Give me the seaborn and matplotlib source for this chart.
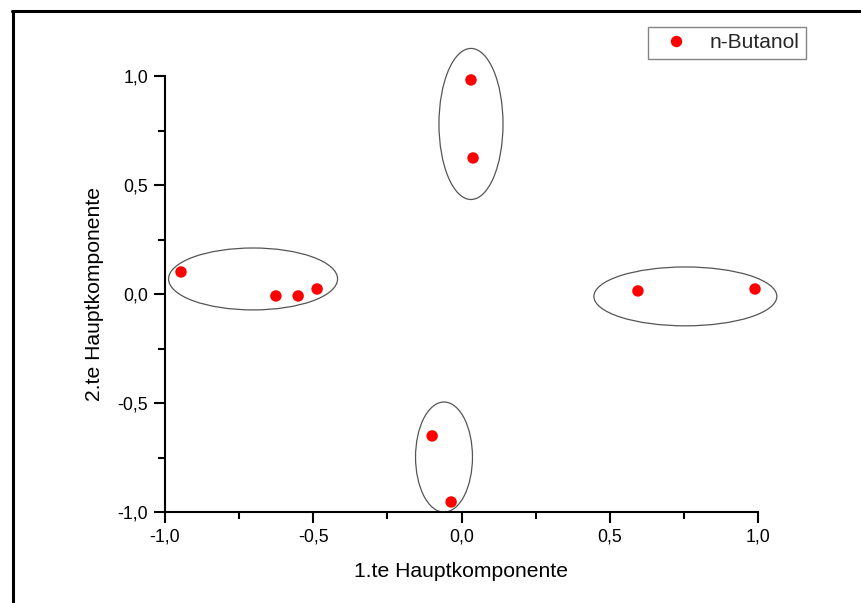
import matplotlib
matplotlib.use("Agg")
import matplotlib.pyplot as plt
import seaborn as sns
import pandas as pd
from matplotlib.patches import Ellipse
from matplotlib.ticker import MultipleLocator, FuncFormatter
from matplotlib.lines import Line2D

sns.set_theme(style="white")
plt.rcParams['font.family'] = ['Liberation Sans', 'DejaVu Sans']

# data
pc1 = [-0.946, -0.626, -0.551, -0.487, 0.032, 0.039, 0.595, 0.990, -0.099, -0.035]
pc2 = [0.101, -0.009, -0.009, 0.023, 0.982, 0.624, 0.014, 0.023, -0.651, -0.954]
series = ["n-Butanol"] * len(pc1)

# cluster ellipses: center x, center y, width, height
ell_cx = [-0.703, 0.032, 0.755, -0.059]
ell_cy = [0.069, 0.780, -0.011, -0.748]
ell_w = [0.57, 0.216, 0.617, 0.192]
ell_h = [0.284, 0.693, 0.27, 0.505]

df = pd.DataFrame({"x": pc1, "y": pc2, "s": series})

fig = plt.figure(figsize=(8.61, 6.03), dpi=100)
ax = fig.add_axes([165/861, 1-512/603, (758-165)/861, (512-76)/603])

sns.scatterplot(data=df, x="x", y="y", color="#ff0000", s=68, edgecolor="none",
                ax=ax, legend=False, zorder=3, clip_on=False)

for cx, cy, w, h in zip(ell_cx, ell_cy, ell_w, ell_h):
    e = Ellipse((cx, cy), w, h, fill=False, edgecolor="#555555", linewidth=0.9,
                clip_on=False, zorder=2)
    ax.add_patch(e)

ax.set_xlim(-1, 1)
ax.set_ylim(-1, 1)
ax.xaxis.set_major_locator(MultipleLocator(0.5))
ax.xaxis.set_minor_locator(MultipleLocator(0.25))
ax.yaxis.set_major_locator(MultipleLocator(0.5))
ax.yaxis.set_minor_locator(MultipleLocator(0.25))
fmt = FuncFormatter(lambda v, p: f"{v:.1f}".replace(".", ",").replace("-0,0", "0,0"))
ax.xaxis.set_major_formatter(fmt)
ax.yaxis.set_major_formatter(fmt)

for side in ["top", "right"]:
    ax.spines[side].set_visible(False)
for side in ["left", "bottom"]:
    ax.spines[side].set_linewidth(1.5)
    ax.spines[side].set_color("black")

ax.tick_params(which="major", direction="out", length=8, width=1.5, color="black",
               labelsize=12.8, labelcolor="black", pad=4, left=True, bottom=True)
ax.tick_params(which="minor", direction="out", length=5, width=1.5, color="black",
               left=True, bottom=True)

ax.set_xlabel("1.te Hauptkomponente", fontsize=15.2, labelpad=12, color="black")
ax.set_ylabel("2.te Hauptkomponente", fontsize=15.2, labelpad=10, color="black")

handle = Line2D([], [], marker="o", linestyle="none", color="#ff0000",
                markersize=8.2, markeredgewidth=0)
leg = ax.legend([handle], ["n-Butanol"], loc="upper left",
                bbox_to_anchor=(648/861, 1-27/603), bbox_transform=fig.transFigure,
                frameon=True, fancybox=False, fontsize=15, handletextpad=0.55,
                borderpad=0.3, handlelength=2.1, borderaxespad=0)
leg.get_frame().set_edgecolor("#666666")
leg.get_frame().set_linewidth(1.0)

# figure border (Origin page frame)
fig.add_artist(Line2D([12/861, 1.0], [1-11/603, 1-11/603], transform=fig.transFigure,
                      color="black", linewidth=2.2))
fig.add_artist(Line2D([13/861, 13/861], [0, 1-11/603], transform=fig.transFigure,
                      color="black", linewidth=2.2))

fig.savefig("out.png", dpi=100, facecolor="white")
